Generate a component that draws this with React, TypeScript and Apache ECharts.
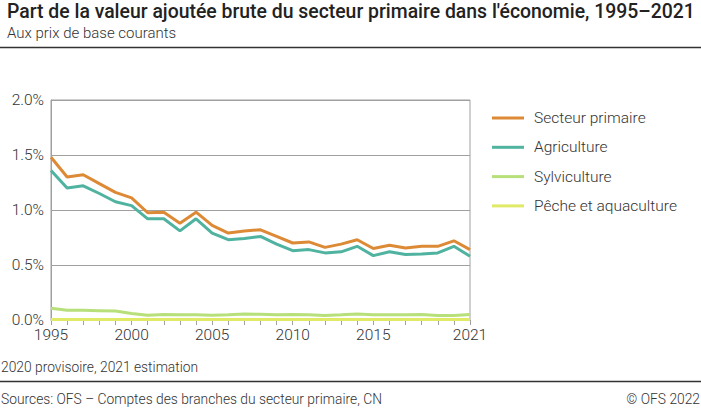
import React, { useEffect, useRef } from "react";
import * as echarts from "echarts";

const years = ["1995","1996","1997","1998","1999","2000","2001","2002","2003","2004","2005","2006","2007","2008","2009","2010","2011","2012","2013","2014","2015","2016","2017","2018","2019","2020","2021"];
const secteurPrimaire = [1.48,1.30,1.32,1.24,1.16,1.11,0.975,0.98,0.88,0.98,0.86,0.79,0.81,0.82,0.76,0.70,0.71,0.66,0.69,0.73,0.65,0.68,0.655,0.67,0.67,0.72,0.64];
const agriculture = [1.36,1.20,1.22,1.15,1.075,1.04,0.92,0.92,0.81,0.92,0.79,0.73,0.74,0.76,0.69,0.63,0.64,0.61,0.62,0.67,0.585,0.62,0.595,0.60,0.61,0.67,0.58];
const sylviculture = [0.106,0.088,0.088,0.085,0.082,0.06,0.043,0.05,0.047,0.047,0.043,0.047,0.055,0.052,0.047,0.05,0.047,0.04,0.047,0.055,0.047,0.047,0.047,0.05,0.04,0.04,0.05];
const peche = [0.004,0.004,0.004,0.004,0.004,0.004,0.004,0.004,0.004,0.004,0.004,0.004,0.004,0.004,0.004,0.004,0.004,0.004,0.004,0.004,0.004,0.004,0.004,0.004,0.004,0.004,0.004];
const seriesNames = ["Secteur primaire", "Agriculture", "Sylviculture", "Pêche et aquaculture"];
const colors = ["#dd8a36", "#4fb3a0", "#b8e07a", "#e0ea66"];
const labeledYears = ["1995", "2000", "2005", "2010", "2015", "2021"];

const FONT = "Roboto";

export default function App() {
  const ref = useRef<HTMLDivElement>(null);
  useEffect(() => {
    document.body.style.margin = "0";
    const chart = echarts.init(ref.current!, null, { renderer: "svg" });
    const data = [secteurPrimaire, agriculture, sylviculture, peche];
    chart.setOption({
      animation: false,
      textStyle: { fontFamily: FONT },
      title: [
        {
          text: "Part de la valeur ajoutée brute du secteur primaire dans l'économie, 1995–2021",
          left: 2,
          top: -3,
          textStyle: { fontFamily: FONT, fontSize: 19.4, fontWeight: 500, color: "#222" },
        },
        {
          text: "Aux prix de base courants",
          left: 2,
          top: 20,
          textStyle: { fontFamily: FONT, fontSize: 15, fontWeight: 300, color: "#333" },
        },
      ],
      grid: { left: 51, right: 231, top: 100, bottom: 90, show: true, borderColor: "#a0a0a0", borderWidth: 1 },
      legend: {
        orient: "vertical",
        left: 487,
        top: 105,
        itemWidth: 32,
        itemHeight: 3,
        itemGap: 13.3,
        icon: "rect",
        data: seriesNames,
        textStyle: { fontFamily: FONT, fontSize: 15.5, fontWeight: 300, color: "#333", padding: [0, 0, 0, 5] },
      },
      xAxis: {
        type: "category",
        data: years,
        boundaryGap: false,
        axisLine: { lineStyle: { color: "#a0a0a0" } },
        axisTick: { show: true, interval: 0, length: 5, lineStyle: { color: "#a0a0a0" } },
        axisLabel: {
          interval: (_i: number, v: string) => labeledYears.indexOf(v) >= 0,
          fontFamily: FONT,
          fontSize: 15.5,
          fontWeight: 300,
          color: "#333",
          margin: 7,
        },
        splitLine: { show: false },
      },
      yAxis: {
        type: "value",
        min: 0,
        max: 2,
        interval: 0.5,
        axisLine: { show: true, lineStyle: { color: "#a0a0a0" } },
        axisTick: { show: false },
        axisLabel: {
          formatter: (v: number) => v.toFixed(1) + "%",
          fontFamily: FONT,
          fontSize: 15.5,
          fontWeight: 300,
          color: "#333",
          margin: 7,
        },
        splitLine: { lineStyle: { color: "#a0a0a0" } },
      },
      series: seriesNames.map((name, i) => ({
        name,
        type: "line",
        data: data[i],
        symbol: "none",
        lineStyle: { width: 3, color: colors[i] },
        itemStyle: { color: colors[i] },
        z: 10 - i,
      })),
      graphic: [
        { type: "line", shape: { x1: 0, y1: 47.5, x2: 701, y2: 47.5 }, style: { stroke: "#333", lineWidth: 1.5 } },
        { type: "line", shape: { x1: 0, y1: 381.5, x2: 701, y2: 381.5 }, style: { stroke: "#333", lineWidth: 1.5 } },
        { type: "text", left: 1, top: 360, style: { text: "2020 provisoire, 2021 estimation", fontFamily: FONT, fontSize: 13.8, fontWeight: 300, fill: "#333" } },
        { type: "text", left: 1, top: 392, style: { text: "Sources: OFS – Comptes des branches du secteur primaire, CN", fontFamily: FONT, fontSize: 13.8, fontWeight: 300, fill: "#333" } },
        { type: "text", right: 1, top: 392, style: { text: "© OFS 2022", fontFamily: FONT, fontSize: 13.8, fontWeight: 300, fill: "#333" } },
      ],
    });
    return () => chart.dispose();
  }, []);
  return <div ref={ref} style={{ width: 701, height: 410 }} />;
}
